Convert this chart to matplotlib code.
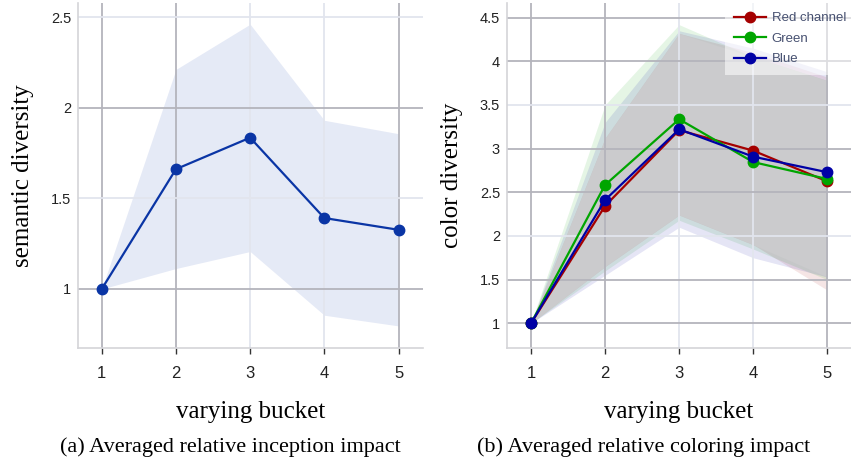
import numpy as np
import matplotlib
matplotlib.use("Agg")
from matplotlib import pyplot as plt
from matplotlib.ticker import FuncFormatter

# данные: панель (a)
buckets = [1, 2, 3, 4, 5]
sem_mean = [1.0, 1.662, 1.836, 1.392, 1.327]
sem_hi = [1.0, 2.213, 2.463, 1.932, 1.858]
sem_lo = [1.0, 1.113, 1.207, 0.855, 0.796]

# данные: панель (b)
red_mean = [1.0, 2.344, 3.212, 2.977, 2.625]
red_hi = [1.0, 3.12, 4.32, 4.10, 3.82]
red_lo = [1.0, 1.65, 2.24, 1.90, 1.38]

green_mean = [1.0, 2.584, 3.337, 2.846, 2.652]
green_hi = [1.0, 3.50, 4.42, 4.05, 3.78]
green_lo = [1.0, 1.60, 2.18, 1.85, 1.50]

blue_mean = [1.0, 2.412, 3.222, 2.908, 2.730]
blue_hi = [1.0, 3.30, 4.35, 4.15, 3.88]
blue_lo = [1.0, 1.55, 2.10, 1.75, 1.53]

serif = "Liberation Serif"
sans = "Liberation Sans"
dark_grid = "#b4b4bc"
light_grid = "#e2e5ee"

fig = plt.figure(figsize=(8.51, 4.65), dpi=100)
ax1 = fig.add_axes([78 / 851, 1 - 348 / 465, 345 / 851, 345 / 465])
ax2 = fig.add_axes([507 / 851, 1 - 348 / 465, 344 / 851, 345 / 465])


def fmt(v, pos):
    return "%g" % v


def style(ax, yticks, xgrid, ygrid):
    ax.set_xticks(buckets)
    ax.set_yticks(yticks)
    ax.yaxis.set_major_formatter(FuncFormatter(fmt))
    ax.grid(True, linewidth=1.3)
    for ln, dark in zip(ax.get_xgridlines(), xgrid):
        ln.set_color(dark_grid if dark else light_grid)
    for ln, dark in zip(ax.get_ygridlines(), ygrid):
        ln.set_color(dark_grid if dark else light_grid)
    for s in ["top", "right"]:
        ax.spines[s].set_visible(False)
    for s in ["left", "bottom"]:
        ax.spines[s].set_color("#d4d4d8")
        ax.spines[s].set_linewidth(1.2)
    ax.tick_params(axis="x", length=4, width=1, color="#333333", pad=9,
                   labelsize=12, labelcolor="#222222")
    ax.tick_params(axis="y", length=0, pad=5, labelsize=10.5, labelcolor="#222222")
    for lab in ax.get_xticklabels() + ax.get_yticklabels():
        lab.set_family(sans)
    ax.set_xlabel("varying bucket", family=serif, fontsize=18, labelpad=14)


# (a)
ax1.fill_between(buckets, sem_lo, sem_hi, color="#0033aa", alpha=0.1, linewidth=0)
ax1.plot(buckets, sem_mean, color="#0a35a5", linewidth=1.6, marker="o", markersize=7.5)
ax1.set_xlim(0.68, 5.33)
ax1.set_ylim(0.674, 2.58)
style(ax1, [1, 1.5, 2, 2.5], [1, 1, 0, 0, 1], [1, 0, 1, 0])
ax1.set_ylabel("semantic diversity", family=serif, fontsize=18, labelpad=12)

# (b)
series = [
    ("Red channel", "#a50000", red_mean, red_lo, red_hi),
    ("Green", "#00a500", green_mean, green_lo, green_hi),
    ("Blue", "#0000a5", blue_mean, blue_lo, blue_hi),
]
for name, c, m, lo, hi in series:
    ax2.fill_between(buckets, lo, hi, color=c, alpha=0.1, linewidth=0)
# область, где все три полосы перекрываются
all_lo = np.max([red_lo, green_lo, blue_lo], axis=0)
all_hi = np.min([red_hi, green_hi, blue_hi], axis=0)
ax2.fill_between(buckets, all_lo, all_hi, color="#cbcbcd", linewidth=0)
for name, c, m, lo, hi in series:
    ax2.plot(buckets, m, color=c, linewidth=1.6, marker="o", markersize=7.5, label=name)
ax2.set_xlim(0.676, 5.32)
ax2.set_ylim(0.717, 4.668)
style(ax2, [1, 1.5, 2, 2.5, 3, 3.5, 4, 4.5], [1, 1, 0, 0, 1], [1, 1, 0, 1, 1, 0, 1, 1])
ax2.set_ylabel("color diversity", family=serif, fontsize=18, labelpad=12)

leg = ax2.legend(loc="upper right", bbox_to_anchor=(1.012, 1.0), frameon=True,
                 fancybox=False, borderaxespad=0.0,
                 handlelength=2.4, handletextpad=0.45, labelspacing=0.62,
                 borderpad=0.7, prop={"family": sans, "size": 9.5})
leg.get_frame().set_facecolor("white")
leg.get_frame().set_alpha(0.55)
leg.get_frame().set_linewidth(0)
for t in leg.get_texts():
    t.set_color("#465070")

fig.text(230 / 851, 1 - 447 / 465, "(a) Averaged relative inception impact",
         family=serif, fontsize=16, ha="center", va="center")
fig.text(644 / 851, 1 - 447 / 465, "(b) Averaged relative coloring impact",
         family=serif, fontsize=16, ha="center", va="center")

fig.savefig("out.png", dpi=100)
